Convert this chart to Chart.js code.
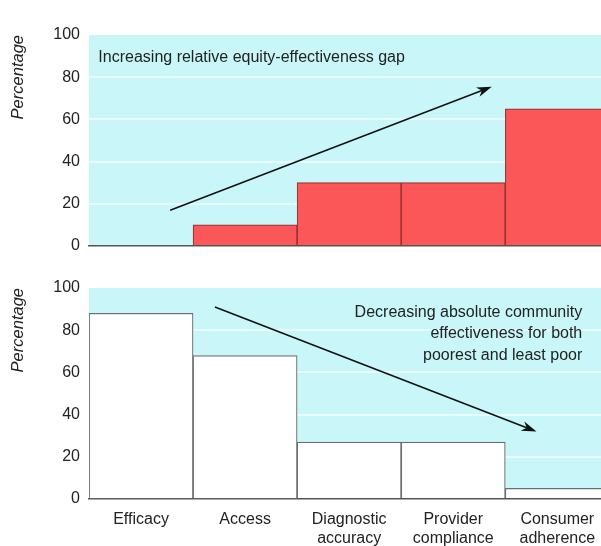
<!DOCTYPE html>
<html>
<head>
<meta charset="utf-8">
<script src="https://cdn.jsdelivr.net/npm/chart.js@4.4.0/dist/chart.umd.min.js"></script>
<style>
  body { margin: 0; background: #fff; }
  .box { position: relative; width: 601px; }
</style>
</head>
<body>
<div class="box" style="height:262px"><canvas id="gapChart"></canvas></div>
<div class="box" style="height:284px"><canvas id="effChart"></canvas></div>
<script>
// data
const categories = [['Efficacy'], ['Access'], ['Diagnostic', 'accuracy'], ['Provider', 'compliance'], ['Consumer', 'adherence']];
const gapValues = [0, 10, 30, 30, 65];       // relative equity-effectiveness gap
const effectValues = [88, 68, 27, 27, 5];    // absolute community effectiveness
const yTickValues = [0, 20, 40, 60, 80, 100];

const FONT = "'Liberation Sans', Arial, sans-serif";
const CYAN = '#c9f7f9';

// cyan plot background + arrows and notes
const decor = {
    id: 'decor',
    beforeDraw(chart, args, opts) {
        const a = chart.chartArea;
        const ctx = chart.ctx;
        ctx.save();
        ctx.fillStyle = CYAN;
        ctx.fillRect(a.left, a.top, a.right - a.left, a.bottom - a.top);
        ctx.restore();
    },
    afterDatasetsDraw(chart, args, opts) {
        const xs = chart.scales.x, ys = chart.scales.y;
        const ctx = chart.ctx;
        ctx.save();
        (opts.arrows || []).forEach(ar => {
            const x1 = xs.getPixelForValue(ar.from[0]), y1 = ys.getPixelForValue(ar.from[1]);
            const x2 = xs.getPixelForValue(ar.to[0]), y2 = ys.getPixelForValue(ar.to[1]);
            const ang = Math.atan2(y2 - y1, x2 - x1);
            const len = 15, half = 5;
            ctx.strokeStyle = '#111';
            ctx.fillStyle = '#111';
            ctx.lineWidth = 1.6;
            ctx.beginPath();
            ctx.moveTo(x1, y1);
            ctx.lineTo(x2 - Math.cos(ang) * len * 0.7, y2 - Math.sin(ang) * len * 0.7);
            ctx.stroke();
            ctx.beginPath();
            ctx.moveTo(x2, y2);
            ctx.lineTo(x2 - Math.cos(ang) * len - Math.sin(ang) * half, y2 - Math.sin(ang) * len + Math.cos(ang) * half);
            ctx.lineTo(x2 - Math.cos(ang) * len * 0.7, y2 - Math.sin(ang) * len * 0.7);
            ctx.lineTo(x2 - Math.cos(ang) * len + Math.sin(ang) * half, y2 - Math.sin(ang) * len - Math.cos(ang) * half);
            ctx.closePath();
            ctx.fill();
        });
        (opts.notes || []).forEach(n => {
            ctx.font = '16px ' + FONT;
            ctx.fillStyle = '#222';
            ctx.textAlign = n.align;
            ctx.textBaseline = 'middle';
            ctx.fillText(n.text, xs.getPixelForValue(n.at[0]), ys.getPixelForValue(n.at[1]));
        });
        ctx.restore();
    }
};

function buildOptions(showLabels, padding, decorOpts) {
    return {
        responsive: true,
        maintainAspectRatio: false,
        animation: false,
        layout: { padding: padding },
        plugins: {
            legend: { display: false },
            tooltip: { enabled: false },
            decor: decorOpts
        },
        scales: {
            x: {
                type: 'linear',
                min: -0.5,
                max: 4.42,
                offset: false,
                afterBuildTicks: s => { s.ticks = categories.map((c, i) => ({ value: i })); },
                afterFit: s => {
                    s.height = showLabels ? 47 : 0;
                    s.paddingLeft = 0;
                    s.paddingRight = 0;
                },
                grid: { display: false, drawTicks: false, offset: false },
                border: { display: true, color: '#555', width: 1.5 },
                ticks: {
                    display: showLabels,
                    padding: 11,
                    color: '#222',
                    font: { family: FONT, size: 16 },
                    maxRotation: 0,
                    callback: v => categories[v]
                }
            },
            y: {
                min: 0,
                max: 100,
                afterBuildTicks: s => { s.ticks = yTickValues.map(v => ({ value: v })); },
                afterFit: s => {
                    s.width = 89;
                    s.paddingTop = 0;
                    s.paddingBottom = 0;
                },
                border: { display: false },
                grid: {
                    drawTicks: false,
                    lineWidth: 2,
                    color: c => (c.tick.value === 0 || c.tick.value === 100) ? 'rgba(0,0,0,0)' : 'rgba(255,255,255,0.6)'
                },
                ticks: {
                    padding: 9,
                    color: '#222',
                    font: { family: FONT, size: 16 }
                },
                title: {
                    display: true,
                    text: 'Percentage',
                    align: 'end',
                    color: '#222',
                    padding: { top: 9, bottom: 0 },
                    font: { family: FONT, size: 16.5, style: 'italic' }
                }
            }
        }
    };
}

new Chart(document.getElementById('gapChart'), {
    type: 'bar',
    data: {
        datasets: [{
            data: gapValues.map((v, i) => ({ x: i, y: v })),
            backgroundColor: '#fb5658',
            borderColor: '#9c3434',
            borderWidth: 1.2,
            barPercentage: 1,
            categoryPercentage: 1
        }]
    },
    options: buildOptions(false, { top: 35, bottom: 16, left: 0, right: 0 }, {
        arrows: [{ from: [0.28, 17], to: [3.37, 75.5] }],
        notes: [{ text: 'Increasing relative equity-effectiveness gap', at: [-0.41, 89.5], align: 'left' }]
    }),
    plugins: [decor]
});

new Chart(document.getElementById('effChart'), {
    type: 'bar',
    data: {
        datasets: [{
            data: effectValues.map((v, i) => ({ x: i, y: v })),
            backgroundColor: '#ffffff',
            borderColor: '#6e6e6e',
            borderWidth: 1.2,
            barPercentage: 1,
            categoryPercentage: 1
        }]
    },
    options: buildOptions(true, { top: 26, bottom: 0, left: 0, right: 0 }, {
        arrows: [{ from: [0.71, 91], to: [3.8, 32] }],
        notes: [
            { text: 'Decreasing absolute community', at: [4.24, 88.5], align: 'right' },
            { text: 'effectiveness for both', at: [4.24, 78.5], align: 'right' },
            { text: 'poorest and least poor', at: [4.24, 67.8], align: 'right' }
        ]
    }),
    plugins: [decor]
});
</script>
</body>
</html>
